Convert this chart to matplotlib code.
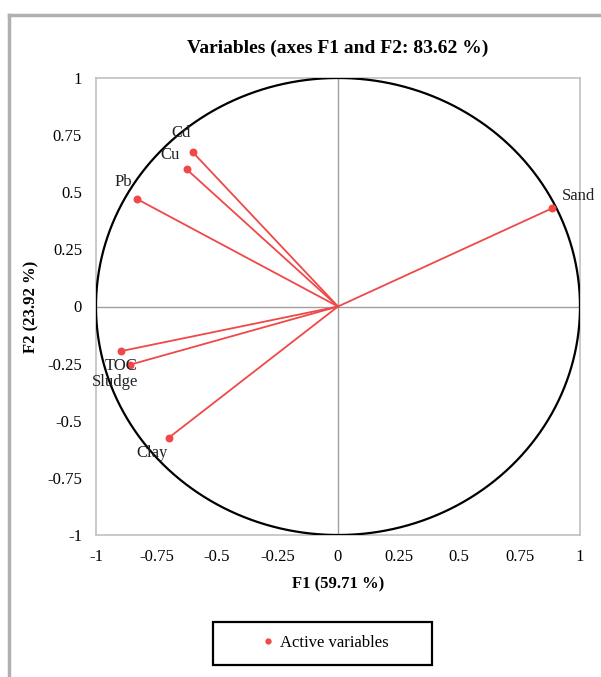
import numpy as np
import matplotlib.pyplot as plt
from matplotlib.lines import Line2D
from matplotlib.patches import Rectangle

# Variable coordinates on F1 / F2
labels = ['Cd', 'Cu', 'Pb', 'Sand', 'TOC', 'Sludge', 'Clay']
f1 = [-0.60, -0.625, -0.83, 0.885, -0.895, -0.86, -0.70]
f2 = [0.675, 0.60, 0.47, 0.43, -0.195, -0.255, -0.575]
ticks = [-1, -0.75, -0.5, -0.25, 0, 0.25, 0.5, 0.75, 1]
tick_labels = ['-1', '-0.75', '-0.5', '-0.25', '0', '0.25', '0.5', '0.75', '1']

plt.rcParams['font.family'] = ['Liberation Serif', 'DejaVu Serif']

fig = plt.figure(figsize=(6.01, 6.77), dpi=100)
W, H = 601, 677

# Outer frame (only left and top visible)
fig.add_artist(Line2D([9 / W, 9 / W], [0, 1 - 15 / H], color='#b0b0b0', lw=2.5))
fig.add_artist(Line2D([9 / W, 1], [1 - 15 / H, 1 - 15 / H], color='#b0b0b0', lw=2.5))

ax = fig.add_axes([96 / W, 1 - 535 / H, 484 / W, 457 / H])

# Correlation circle
t = np.linspace(0, 2 * np.pi, 400)
ax.plot(np.cos(t), np.sin(t), color='black', lw=1.6, zorder=3)
ax.axhline(0, color='#a0a0a0', lw=1, zorder=1)
ax.axvline(0, color='#a0a0a0', lw=1, zorder=1)

red = '#f04848'
for x, y in zip(f1, f2):
    ax.plot([0, x], [0, y], color=red, lw=1.3, zorder=2)
ax.scatter(f1, f2, color=red, s=22, zorder=4)

offsets = {
    'Cd': (-0.05, 0.05, 'center', 'bottom'),
    'Cu': (-0.07, 0.03, 'center', 'bottom'),
    'Pb': (-0.02, 0.04, 'right', 'bottom'),
    'Sand': (0.04, 0.02, 'left', 'bottom'),
    'TOC': (0.0, -0.03, 'center', 'top'),
    'Sludge': (-0.06, -0.04, 'center', 'top'),
    'Clay': (-0.07, -0.03, 'center', 'top'),
}
for lab, x, y in zip(labels, f1, f2):
    dx, dy, ha, va = offsets[lab]
    ax.text(x + dx, y + dy, lab, ha=ha, va=va, fontsize=12, color='#222222', zorder=5)

ax.set_xlim(-1, 1)
ax.set_ylim(-1, 1)
ax.set_xticks(ticks)
ax.set_xticklabels(tick_labels)
ax.set_yticks(ticks)
ax.set_yticklabels(tick_labels)
ax.tick_params(length=0, labelsize=12, pad=10)
for s in ax.spines.values():
    s.set_color('#c0c0c0')
    s.set_linewidth(1.2)

ax.set_title('Variables (axes F1 and F2: 83.62 %)', fontsize=14, fontweight='bold', pad=18)
ax.set_xlabel('F1 (59.71 %)', fontsize=12, fontweight='bold', labelpad=8)
ax.set_ylabel('F2 (23.92 %)', fontsize=12, fontweight='bold', labelpad=6)

# Legend box
fig.add_artist(Rectangle((213 / W, 1 - 665 / H), 219 / W, 43 / H, transform=fig.transFigure,
                         fill=False, edgecolor='black', lw=1.6))
leg_handle = Line2D([], [], marker='o', color=red, ls='none', markersize=3.5)
fig.legend([leg_handle], ['Active variables'], loc='center',
           bbox_to_anchor=(324 / W, 1 - 643 / H), frameon=False,
           fontsize=12, handletextpad=0.2, handlelength=1.0)

fig.savefig('out.png', dpi=100)
